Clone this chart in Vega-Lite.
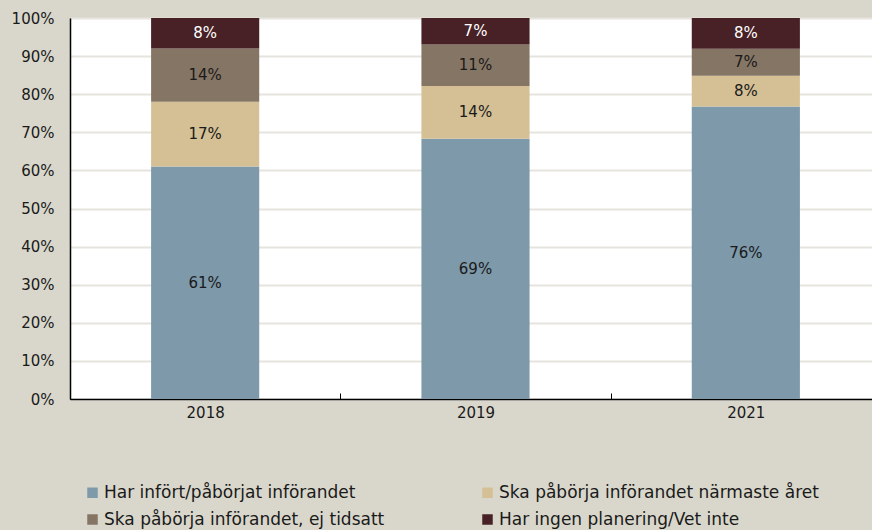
{
  "$schema": "https://vega.github.io/schema/vega-lite/v6.json",
  "width": 811,
  "height": 381,
  "autosize": "none",
  "padding": {"left": 70, "top": 18, "right": -9, "bottom": 131},
  "background": "#D9D7CB",
  "config": {
    "view": {"fill": "white", "stroke": "#6E6E6E", "strokeWidth": 1},
    "font": "DejaVu Sans"
  },
  "data": {
    "values": [
      {"year": "2018", "category": "Har infört/påbörjat införandet", "k": 1, "value": 61, "label": "61%"},
      {"year": "2018", "category": "Ska påbörja införandet närmaste året", "k": 2, "value": 17, "label": "17%"},
      {"year": "2018", "category": "Ska påbörja införandet, ej tidsatt", "k": 3, "value": 14, "label": "14%"},
      {"year": "2018", "category": "Har ingen planering/Vet inte", "k": 4, "value": 8, "label": "8%"},
      {"year": "2019", "category": "Har infört/påbörjat införandet", "k": 1, "value": 69, "label": "69%"},
      {"year": "2019", "category": "Ska påbörja införandet närmaste året", "k": 2, "value": 14, "label": "14%"},
      {"year": "2019", "category": "Ska påbörja införandet, ej tidsatt", "k": 3, "value": 11, "label": "11%"},
      {"year": "2019", "category": "Har ingen planering/Vet inte", "k": 4, "value": 7, "label": "7%"},
      {"year": "2021", "category": "Har infört/påbörjat införandet", "k": 1, "value": 76, "label": "76%"},
      {"year": "2021", "category": "Ska påbörja införandet närmaste året", "k": 2, "value": 8, "label": "8%"},
      {"year": "2021", "category": "Ska påbörja införandet, ej tidsatt", "k": 3, "value": 7, "label": "7%"},
      {"year": "2021", "category": "Har ingen planering/Vet inte", "k": 4, "value": 8, "label": "8%"}
    ]
  },
  "encoding": {
    "x": {
      "field": "year", "type": "nominal",
      "scale": {"paddingInner": 0, "paddingOuter": 0},
      "axis": {
        "title": null, "labelAngle": 0, "labelFontSize": 15, "labelColor": "#1a1a1a",
        "labelPadding": 12, "domainColor": "black", "domainWidth": 1.5,
        "tickBand": "extent", "tickSize": -6, "tickColor": "black", "grid": false
      }
    },
    "y": {
      "field": "value", "type": "quantitative", "stack": "normalize",
      "axis": {
        "title": null, "format": ".0%", "tickCount": 10, "labelFontSize": 15, "labelColor": "#1a1a1a",
        "labelPadding": 16, "ticks": false, "domainColor": "black", "domainWidth": 1.5,
        "gridColor": "#E6E4DE", "gridWidth": 2
      }
    },
    "order": {"field": "k", "type": "quantitative"}
  },
  "layer": [
    {
      "mark": {"type": "bar", "width": {"band": 0.4}},
      "encoding": {
        "color": {
          "field": "category", "type": "nominal",
          "scale": {
            "domain": ["Har infört/påbörjat införandet", "Ska påbörja införandet närmaste året", "Ska påbörja införandet, ej tidsatt", "Har ingen planering/Vet inte"],
            "range": ["#7D99AA", "#D4C094", "#857565", "#472125"]
          },
          "legend": {
            "title": null, "orient": "none", "legendX": 14, "legendY": 466,
            "direction": "horizontal",
            "columns": 2, "columnPadding": 94, "rowPadding": 9,
            "symbolType": "square", "symbolSize": 110, "symbolStrokeWidth": 0,
            "labelFontSize": 17, "labelColor": "#1a1a1a", "labelLimit": 400, "labelOffset": 3
          }
        }
      }
    },
    {
      "mark": {"type": "text", "fontSize": 15},
      "encoding": {
        "y": {"field": "value", "type": "quantitative", "stack": "normalize", "bandPosition": 0.5},
        "text": {"field": "label", "type": "nominal"},
        "color": {
          "condition": {"test": "datum.k === 4", "value": "white"},
          "value": "#1a1a1a"
        }
      }
    }
  ]
}
